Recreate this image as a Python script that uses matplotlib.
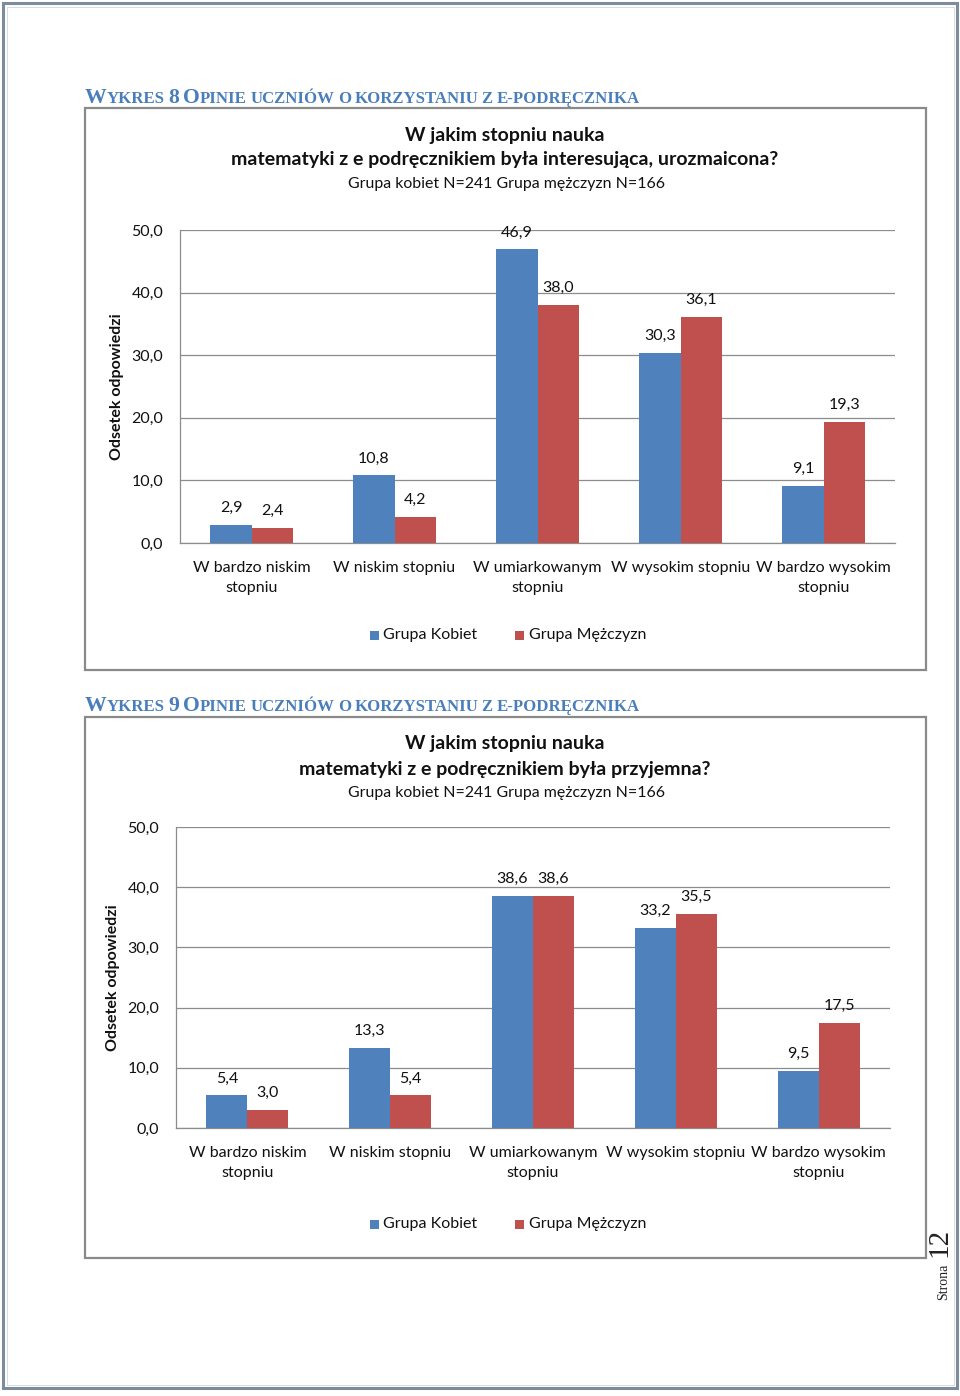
import matplotlib
matplotlib.use("Agg")
import matplotlib.pyplot as plt
from matplotlib.patches import Rectangle

plt.rcParams['font.family'] = ['Lato', 'DejaVu Sans']

# ---------------- data ----------------
categories = ["W bardzo niskim\nstopniu", "W niskim stopniu", "W umiarkowanym\nstopniu",
              "W wysokim stopniu", "W bardzo wysokim\nstopniu"]
series_names = ["Grupa Kobiet", "Grupa Mężczyzn"]
kobiety_8 = [2.9, 10.8, 46.9, 30.3, 9.1]
mezczyzni_8 = [2.4, 4.2, 38.0, 36.1, 19.3]
kobiety_9 = [5.4, 13.3, 38.6, 33.2, 9.5]
mezczyzni_9 = [3.0, 5.4, 38.6, 35.5, 17.5]
y_ticks = [0, 10, 20, 30, 40, 50]
title1_l1 = "W jakim stopniu nauka"
title1_l2 = "matematyki z e podręcznikiem była interesująca, urozmaicona?"
title2_l1 = "W jakim stopniu nauka"
title2_l2 = "matematyki z e podręcznikiem była przyjemna?"
subtitle = "Grupa kobiet N=241 Grupa mężczyzn N=166"
ylabel = "Odsetek odpowiedzi"

BLUE = "#4F81BD"
RED = "#C0504D"
GRID = "#8C8C8C"
HEAD = "#4A7EBB"

W, H = 960, 1396
fig = plt.figure(figsize=(W / 100, H / 100), dpi=100)

# overlay axes in pixel coordinates
ov = fig.add_axes([0, 0, 1, 1], zorder=0)
ov.set_xlim(0, W)
ov.set_ylim(H, 0)
ov.axis('off')

# page border
ov.add_patch(Rectangle((3, 3), 954, 1385, fill=False, ec="#7D8C9C", lw=2.2))
ov.add_patch(Rectangle((6.5, 6.5), 947, 1378, fill=False, ec="#D5DBE2", lw=0.7))

# chart boxes
for (x0, y0, x1, y1) in [(85, 108, 926, 670), (85, 717, 926, 1258)]:
    ov.add_patch(Rectangle((x0, y0), x1 - x0, y1 - y0, fill=False, ec="#8A8A8A", lw=1.6))

renderer = fig.canvas.get_renderer()


def smallcaps(x, y, pieces, big=15.7, small=12.05, gap=3.6):
    for kind, s in pieces:
        if kind == 'gap':
            x += gap
            continue
        fs = big if kind == 'B' else small
        t = ov.text(x, y, s, fontsize=fs, fontweight='bold', color=HEAD,
                    family=['Liberation Serif', 'DejaVu Serif'], ha='left', va='baseline')
        bb = t.get_window_extent(renderer)
        x += bb.width


def heading(y, num):
    words = "OPINIE UCZNIÓW O KORZYSTANIU Z E-PODRĘCZNIKA".split(" ")
    pieces = [('B', 'W'), ('S', 'YKRES'), ('gap', ''), ('B', num), ('gap', ''), ('B', 'O'), ('S', 'PINIE')]
    for w in words[1:]:
        pieces.append(('gap', ''))
        pieces.append(('S', w))
    smallcaps(85, y, pieces)


heading(103, "8")
heading(711, "9")

# page number
ov.text(944, 1282, "Strona", rotation=90, fontsize=10, family=['Liberation Serif'],
        ha='center', va='center', color='#222222')
ov.text(939, 1242, "12", rotation=90, fontsize=21, family=['Liberation Serif'],
        ha='center', va='center', color='#222222')


def fmt(v):
    return f"{v:.1f}".replace('.', ',')


def chart(left, right, top, bottom, kob, mez, t1, t2, tcy, ylab_x, leg_y):
    ax = fig.add_axes([left / W, 1 - bottom / H, (right - left) / W, (bottom - top) / H], zorder=2)
    n = len(categories)
    xs = list(range(n))
    bw = 0.287
    ax.bar([x - bw / 2 for x in xs], kob, width=bw, color=BLUE, zorder=3)
    ax.bar([x + bw / 2 for x in xs], mez, width=bw, color=RED, zorder=3)
    ax.set_xlim(-0.5, n - 0.5)
    ax.set_ylim(0, 50)
    ax.set_yticks(y_ticks)
    ax.set_yticklabels([fmt(v) for v in y_ticks], fontsize=11.5, color='#111111')
    ax.set_xticks(xs)
    ax.set_xticklabels(categories, fontsize=11.5, color='#111111', linespacing=1.5, va='top')
    ax.tick_params(axis='both', length=0)
    ax.tick_params(axis='y', pad=12)
    ax.tick_params(axis='x', pad=13)
    ax.grid(axis='y', color=GRID, lw=0.9, zorder=0)
    ax.set_axisbelow(True)
    for s in ['top', 'right']:
        ax.spines[s].set_visible(False)
    for s in ['left', 'bottom']:
        ax.spines[s].set_color(GRID)
        ax.spines[s].set_linewidth(0.9)
    for i in xs:
        ax.annotate(fmt(kob[i]), (i - bw / 2, kob[i]), xytext=(0, 17), textcoords='offset pixels',
                    ha='center', va='center', fontsize=11.5, color='#111111')
        ax.annotate(fmt(mez[i]), (i + bw / 2, mez[i]), xytext=(0, 17), textcoords='offset pixels',
                    ha='center', va='center', fontsize=11.5, color='#111111')
    # titles
    ov.text(505, tcy, t1, fontsize=14, fontweight='bold', ha='center', va='center', color='#111111')
    ov.text(505, tcy + 25, t2, fontsize=14, fontweight='bold', ha='center', va='center', color='#111111')
    ov.text(507, tcy + 49, subtitle, fontsize=11.4, ha='center', va='center', color='#111111')
    # y label
    ov.text(ylab_x, (top + bottom) / 2, ylabel, rotation=90, fontsize=11.5, fontweight='bold',
            ha='center', va='center', color='#111111')
    # legend
    ov.add_patch(Rectangle((370, leg_y - 4.5), 9, 9, color=BLUE, lw=0))
    ov.text(383, leg_y, series_names[0], fontsize=11.5, ha='left', va='center', color='#111111')
    ov.add_patch(Rectangle((515, leg_y - 4.5), 9, 9, color=RED, lw=0))
    ov.text(529, leg_y, series_names[1], fontsize=11.5, ha='left', va='center', color='#111111')


chart(180, 895, 230, 543, kobiety_8, mezczyzni_8, title1_l1, title1_l2, 135, 117, 635)
chart(176, 890, 827, 1128, kobiety_9, mezczyzni_9, title2_l1, title2_l2, 744, 113, 1224)

fig.savefig("out.png", dpi=100)
